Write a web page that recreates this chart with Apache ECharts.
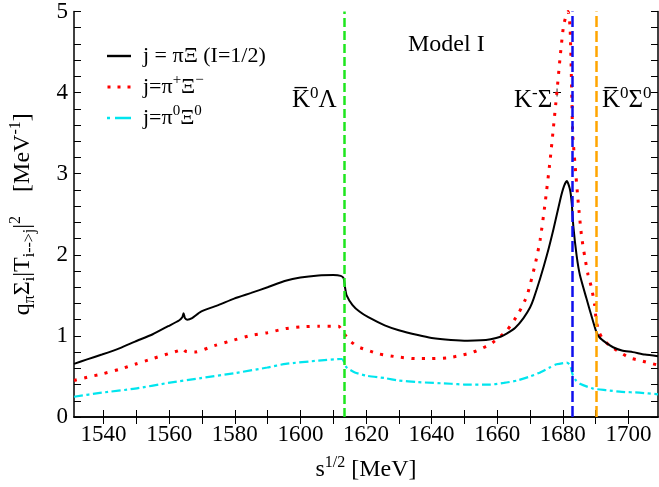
<!DOCTYPE html>
<html>
<head>
<meta charset="utf-8">
<script src="https://cdn.jsdelivr.net/npm/echarts@6/dist/echarts.min.js"></script>
<style>
  html, body { margin: 0; padding: 0; background: #fff; }
  #chart { width: 659px; height: 487px; }
</style>
</head>
<body>
<div id="chart"></div>
<script>
// s^{1/2} [MeV] vs q_pi Sum_i |T_{i->j}|^2, Model I
var blackE = [1531, 1535, 1539.5, 1545, 1549.6, 1555, 1559.7, 1563, 1564, 1564.4, 1564.8, 1565.5, 1567, 1569.7, 1575, 1579.8, 1585, 1590, 1595.5, 1600, 1605.5, 1610, 1612.3, 1613.2, 1613.6, 1614.1, 1615.9, 1618, 1620.7, 1625.7, 1630, 1635.8, 1640, 1645.9, 1651, 1655, 1658, 1661, 1663, 1665.5, 1668, 1670, 1671.1, 1673.1, 1675.1, 1677.1, 1679.2, 1680.3, 1681.2, 1682.2, 1682.7, 1683.2, 1684.2, 1685.2, 1687.2, 1689.2, 1690.2, 1691.2, 1693, 1695.3, 1698, 1701.3, 1705, 1709];
var blackV = [0.655, 0.71, 0.77, 0.85, 0.93, 1.02, 1.12, 1.19, 1.23, 1.28, 1.22, 1.2, 1.22, 1.3, 1.38, 1.46, 1.53, 1.6, 1.68, 1.72, 1.745, 1.75, 1.74, 1.71, 1.6, 1.5, 1.38, 1.3, 1.23, 1.13, 1.07, 1.01, 0.975, 0.95, 0.94, 0.945, 0.96, 0.99, 1.03, 1.1, 1.22, 1.35, 1.46, 1.71, 1.99, 2.31, 2.68, 2.84, 2.91, 2.8, 2.64, 2.35, 1.99, 1.75, 1.46, 1.18, 1.05, 0.98, 0.92, 0.86, 0.82, 0.8, 0.77, 0.75];

var redE = [1531, 1535, 1539.5, 1545, 1549.6, 1555, 1559.7, 1563, 1564.2, 1565, 1567.7, 1573.8, 1579.8, 1585.4, 1590, 1595.5, 1600, 1605.5, 1611.6, 1613.1, 1615.1, 1617.6, 1620.7, 1623.7, 1629.7, 1635, 1639.8, 1645, 1648.9, 1652, 1655, 1658, 1660.5, 1663, 1666.5, 1669.1, 1671.6, 1673.1, 1674.6, 1676.1, 1677.1, 1678.1, 1679.2, 1680.2, 1681, 1681.6, 1682.2, 1682.7, 1683, 1683.7, 1684.7, 1685.7, 1686.7, 1687.7, 1688.7, 1689.7, 1690.2, 1691, 1692.2, 1694.3, 1697.3, 1700.3, 1703.3, 1706, 1709];
var redV = [0.45, 0.49, 0.53, 0.59, 0.65, 0.72, 0.78, 0.82, 0.84, 0.81, 0.8, 0.88, 0.95, 1.01, 1.04, 1.09, 1.11, 1.12, 1.12, 1.04, 0.94, 0.865, 0.82, 0.78, 0.74, 0.72, 0.72, 0.73, 0.76, 0.79, 0.84, 0.9, 0.98, 1.07, 1.28, 1.5, 1.89, 2.19, 2.64, 3.16, 3.56, 3.97, 4.45, 4.82, 4.95, 5.0, 4.8, 4.01, 3.49, 3.12, 2.64, 2.23, 1.97, 1.75, 1.6, 1.38, 1.18, 1.05, 0.96, 0.88, 0.8, 0.73, 0.7, 0.67, 0.64];

var cyanE = [1531, 1539.5, 1549.6, 1559.7, 1569.7, 1579.8, 1589.9, 1595.5, 1605.5, 1612.6, 1613.3, 1614.1, 1616.6, 1620, 1625.7, 1630, 1635.8, 1645.9, 1650, 1658, 1662, 1666.1, 1670, 1673.1, 1676, 1678.1, 1681.2, 1682.2, 1683, 1684, 1685.2, 1689.2, 1693.3, 1698, 1703.3, 1709];
var cyanV = [0.25, 0.3, 0.35, 0.42, 0.48, 0.54, 0.61, 0.655, 0.695, 0.715, 0.68, 0.61, 0.55, 0.51, 0.48, 0.45, 0.43, 0.41, 0.4, 0.4, 0.42, 0.45, 0.5, 0.55, 0.61, 0.65, 0.67, 0.64, 0.52, 0.45, 0.41, 0.35, 0.33, 0.31, 0.3, 0.28];

// thresholds: Kbar0 Lambda, K- Sigma+, Kbar0 Sigma0
var thresholds = [1613.3, 1683.0, 1690.2];

var xLabels = [1540, 1560, 1580, 1600, 1620, 1640, 1660, 1680, 1700];
var xTicks = [1540, 1550, 1560, 1570, 1580, 1590, 1600, 1610, 1620, 1630, 1640, 1650, 1660, 1670, 1680, 1690, 1700];
var yLabels = [0, 1, 2, 3, 4, 5];

function pairs(xs, ys) {
  return xs.map(function(x, i) { return [x, ys[i]]; });
}

var font = 'Liberation Serif';
var green = '#1ee61e', blue = '#1010ee', orange = '#ffa500';

function richSet(size, color) {
  var s = Math.round(size * 0.66);
  return {
    n: { fontFamily: font, fontSize: size, color: color, lineHeight: size + 6 },
    sup: { fontFamily: font, fontSize: s, color: color, verticalAlign: 'top', lineHeight: s },
    sub: { fontFamily: font, fontSize: s, color: color, verticalAlign: 'bottom', lineHeight: s }
  };
}

var legendText = {
  'j = πΞ (I=1/2)': '{n|j = πΞ (I=1/2)}',
  'j=π+Ξ−': '{n|j=π}{sup|+}{n|Ξ}{sup|−}',
  'j=π0Ξ0': '{n|j=π}{sup|0}{n|Ξ}{sup|0}'
};

var axisLine = { lineStyle: { color: '#000', width: 1.5 } };
var tickStyle = { inside: true, length: 7, lineStyle: { color: '#000', width: 1 } };
function plain(v) { return String(v); }

var chart = echarts.init(document.getElementById('chart'));
chart.setOption({
  animation: false,
  grid: { left: 70, right: 1, top: 7.5, bottom: 66.5 },
  legend: {
    orient: 'vertical',
    left: 102,
    top: 40,
    itemWidth: 24,
    itemHeight: 3,
    itemGap: 6,
    textStyle: { padding: [0, 0, 0, 7], rich: richSet(22, '#000') },
    formatter: function(name) { return legendText[name]; },
    data: [
      { name: 'j = πΞ (I=1/2)', icon: 'path://M0,0h24v2.4h-24z' },
      { name: 'j=π+Ξ−', icon: 'path://M0,0h3v3h-3zM10,0h3v3h-3zM20,0h3v3h-3z' },
      { name: 'j=π0Ξ0', icon: 'path://M0,0h3v2.6h-3zM8,0h16v2.6h-16z' }
    ]
  },
  xAxis: [{
    type: 'value', min: 1531, max: 1709, position: 'bottom',
    name: '{n|s}{sup|1/2}{n| [MeV]}',
    nameLocation: 'middle', nameGap: 38,
    nameTextStyle: { rich: richSet(24, '#000') },
    axisLine: axisLine,
    axisTick: Object.assign({ customValues: xTicks }, tickStyle),
    axisLabel: { customValues: xLabels, formatter: plain, color: '#000', fontFamily: font, fontSize: 23, margin: 6 },
    splitLine: { show: false }
  }, {
    type: 'value', min: 1531, max: 1709, position: 'top',
    axisLine: axisLine,
    axisTick: Object.assign({ customValues: xTicks }, tickStyle),
    axisLabel: { show: false },
    splitLine: { show: false }
  }],
  yAxis: [{
    type: 'value', min: 0, max: 5, interval: 0.2, position: 'left',
    name: '{n|q}{sub|π}{n|Σ}{sub|i}{n||T}{sub|i-->j}{n||}{sup|2}{n|    [MeV}{sup|-1}{n|]}',
    nameLocation: 'middle', nameGap: 36, nameRotate: 90,
    nameTextStyle: { rich: richSet(24, '#000') },
    axisLine: axisLine,
    axisTick: tickStyle,
    axisLabel: { customValues: yLabels, formatter: plain, color: '#000', fontFamily: font, fontSize: 23, margin: 6 },
    splitLine: { show: false }
  }, {
    type: 'value', min: 0, max: 5, interval: 0.2, position: 'right',
    axisLine: axisLine,
    axisTick: tickStyle,
    axisLabel: { show: false },
    splitLine: { show: false }
  }],
  series: [{
    name: 'j = πΞ (I=1/2)',
    type: 'line',
    data: pairs(blackE, blackV),
    symbol: 'none',
    smooth: 0.2,
    lineStyle: { color: '#000', width: 2 },
    itemStyle: { color: '#000' },
    markLine: {
      silent: true,
      symbol: 'none',
      label: { show: false },
      data: [
        { xAxis: thresholds[0], lineStyle: { color: green, width: 2.5, type: [9, 4] } },
        { xAxis: thresholds[1], lineStyle: { color: blue, width: 2.5, type: [11, 4] } },
        { xAxis: thresholds[2], lineStyle: { color: orange, width: 2.5, type: [11, 4] } }
      ]
    },
    z: 3
  }, {
    name: 'j=π+Ξ−',
    type: 'line',
    data: pairs(redE, redV),
    symbol: 'none',
    smooth: 0.2,
    lineStyle: { color: '#ff0000', width: 3, type: [3, 7.5] },
    itemStyle: { color: '#ff0000' },
    z: 2
  }, {
    name: 'j=π0Ξ0',
    type: 'line',
    data: pairs(cyanE, cyanV),
    symbol: 'none',
    smooth: 0.2,
    lineStyle: { color: '#00e5ee', width: 2.2, type: [9, 3.5, 3, 3.5] },
    itemStyle: { color: '#00e5ee' },
    z: 2
  }],
  graphic: [
    { type: 'text', left: 408, top: 33, style: { text: 'Model I', fontFamily: font, fontSize: 24, fill: '#000' } },
    { type: 'text', left: 292, top: 85, style: { text: '{n|K̅}{sup|0}{n|Λ}', rich: richSet(25, green) } },
    { type: 'text', left: 514, top: 85, style: { text: '{n|K}{sup|-}{n|Σ}{sup|+}', rich: richSet(25, blue) } },
    { type: 'text', left: 602, top: 85, style: { text: '{n|K̅}{sup|0}{n|Σ}{sup|0}', rich: richSet(25, orange) } }
  ]
});
</script>
</body>
</html>
